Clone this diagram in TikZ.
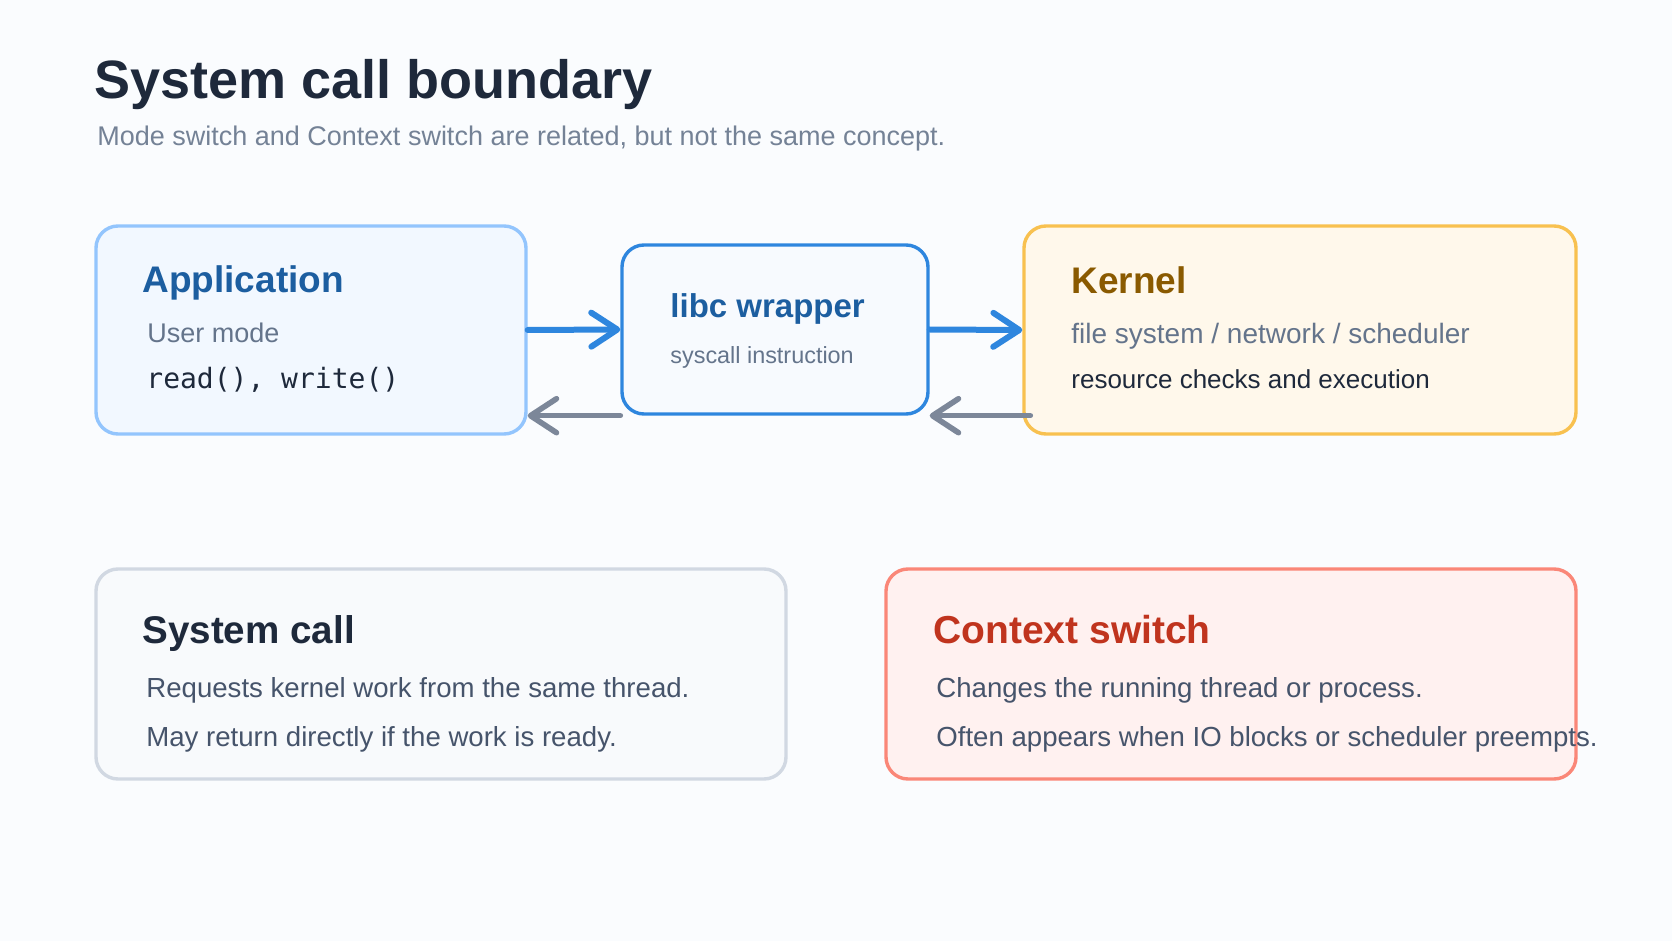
\documentclass[tikz,border=0pt]{standalone}
\usepackage{fontspec}
\setmainfont{Liberation Sans}
\setmonofont{DejaVu Sans Mono}
\usepackage{xcolor}
\definecolor{bgpage}{RGB}{250,252,254}
\definecolor{ink}{RGB}{30,41,59}
\definecolor{muted}{RGB}{100,116,139}
\definecolor{subgray}{RGB}{116,130,150}
\definecolor{bodygray}{RGB}{70,84,107}
\definecolor{appfill}{RGB}{242,248,255}
\definecolor{appline}{RGB}{147,197,253}
\definecolor{libfill}{RGB}{247,250,254}
\definecolor{callblue}{RGB}{46,134,222}
\definecolor{titleblue}{RGB}{28,94,160}
\definecolor{kerfill}{RGB}{255,248,235}
\definecolor{kerline}{RGB}{248,193,80}
\definecolor{kerbrown}{RGB}{138,90,0}
\definecolor{sysfill}{RGB}{248,250,252}
\definecolor{sysline}{RGB}{209,216,226}
\definecolor{ctxfill}{RGB}{255,241,240}
\definecolor{ctxline}{RGB}{250,135,120}
\definecolor{ctxred}{RGB}{192,52,30}
\definecolor{backgray}{RGB}{124,135,153}
\usepackage{tikz}
\usetikzlibrary{arrows.meta}
\usetikzlibrary{calc}

\begin{document}
\begin{tikzpicture}[x=0.5pt,y=-0.5pt]
	\fill[bgpage] (0,0) rectangle (1672,941);
	\useasboundingbox (0,0) rectangle (1672,941);

	\begin{scope}[every node/.style={rectangle,rounded corners=11pt,line width=1.7pt,inner sep=0pt}]
	    \node (App) [draw=appline,fill=appfill,minimum width=215pt,minimum height=104pt] at (311,330) {};
	    \node (Lib) [draw=callblue,fill=libfill,minimum width=153pt,minimum height=84.5pt] at (775,329.5) {};
	    \node (Ker) [draw=kerline,fill=kerfill,minimum width=276pt,minimum height=104pt] at (1300,330) {};
	    \node (Sys) [draw=sysline,fill=sysfill,minimum width=345pt,minimum height=105pt] at (441,674) {};
	    \node (Ctx) [draw=ctxline,fill=ctxfill,minimum width=345pt,minimum height=105pt] at (1231,674) {};
	\end{scope}

	\begin{scope}[every node/.style={anchor=base west,inner sep=0pt},
	              head/.style={font=\fontsize{18.5pt}{22pt}\selectfont\bfseries},
	              body/.style={font=\fontsize{13.8pt}{16pt}\selectfont}]
	    \node (T) [font=\fontsize{27pt}{32pt}\selectfont\bfseries,text=ink] at (94,99) {System call boundary};
	    \node (Tsub) [font=\fontsize{13.5pt}{16pt}\selectfont,text=subgray] at (97,146) {Mode switch and Context switch are related, but not the same concept.};

	    \node (Ahead) [head,text=titleblue] at (142,293) {Application};
	    \node (Amode) [font=\fontsize{13.5pt}{16pt}\selectfont,text=muted] at (147,343) {User mode};
	    \node (Acall) [font=\fontsize{14pt}{16pt}\ttfamily,text=ink] at (146,388) {read(), write()};

	    \node (Lhead) [font=\fontsize{16.5pt}{20pt}\selectfont\bfseries,text=titleblue] at (670,318) {libc wrapper};
	    \node (Linst) [font=\fontsize{11.7pt}{14pt}\selectfont,text=muted] at (670,364) {syscall instruction};

	    \node (Khead) [head,text=kerbrown] at (1071,294) {Kernel};
	    \node (Kparts) [font=\fontsize{14pt}{16pt}\selectfont,text=muted] at (1071,344) {file system / network / scheduler};
	    \node (Kwork) [font=\fontsize{13pt}{16pt}\selectfont,text=ink] at (1071,388) {resource checks and execution};

	    \node (Shead) [head,font=\fontsize{19.3pt}{23pt}\selectfont\bfseries,text=ink] at (142,643) {System call};
	    \node (Sone) [body,text=bodygray] at (146,697) {Requests kernel work from the same thread.};
	    \node (Stwo) [body,text=bodygray] at (146,746) {May return directly if the work is ready.};

	    \node (Chead) [head,font=\fontsize{19.5pt}{23pt}\selectfont\bfseries,text=ctxred] at (933,643) {Context switch};
	    \node (Cone) [body,text=bodygray] at (936,697) {Changes the running thread or process.};
	    \node (Ctwo) [body,text=bodygray] at (936,746) {Often appears when IO blocks or scheduler preempts.};
	\end{scope}

	\begin{scope}[>={Straight Barb[length=13pt,width=17pt,round]},
	              every edge/.style={draw,line width=3pt,line cap=round}]
	    \path [->] (App.east) edge[draw=callblue] (Lib.west);
	    \path [->] (Lib.east) edge[draw=callblue] (Ker.west);
	    \path [->] (Lib.south west) edge[draw=backgray,line width=2.8pt] (Lib.south west -| App.east);
	    \path [->] ($(Ker.west |- Lib.south east)+(8,0)$) edge[draw=backgray,line width=2.8pt] (Lib.south east);
	\end{scope}
\end{tikzpicture}
\end{document}
